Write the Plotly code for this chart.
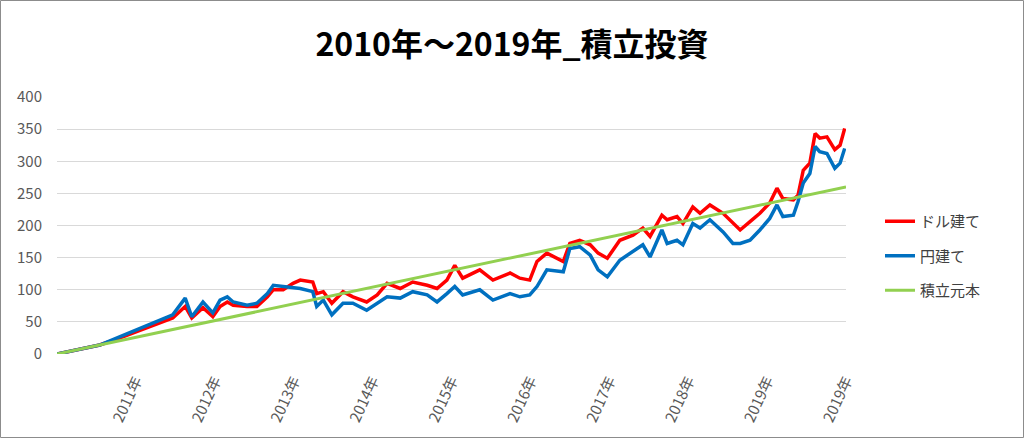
import plotly.graph_objects as go

# month index from Jan 2010 (0) to Dec 2019 (120)
months = [0, 3, 6.5, 9.6, 12.6, 15.7, 17.6, 19.5, 20.5, 22.2, 23.7, 24.8, 25.9, 26.8, 28.9,
          30.4, 32.0, 32.9, 34.4, 35.9, 37.0, 38.9, 39.5, 40.5, 41.8, 43.5, 45.0, 47.1,
          48.7, 50.2, 52.2, 54.1, 56.3, 57.8, 59.3, 60.5, 61.7, 64.3, 66.3, 68.9, 70.4,
          71.9, 73.0, 74.5, 77.0, 78.0, 79.5, 81.1, 82.3, 83.7, 85.6, 87.6, 89.1, 90.2,
          92.0, 92.8, 94.3, 95.2, 96.7, 97.8, 99.3, 101.3, 102.8, 103.9, 105.4, 106.9,
          108.4, 109.5, 110.4, 112.0, 112.7, 113.5, 114.5, 115.3, 116.0, 117.1, 118.3,
          119.1, 119.8]

dollar = [0, 7, 14, 25, 37, 48, 56, 74, 56, 72, 58, 74, 81, 76, 74,
          74, 89, 100, 100, 110, 115, 112, 94, 97, 79, 97, 89, 81,
          92, 110, 102, 112, 107, 102, 115, 138, 118, 131, 115, 126, 118,
          115, 144, 157, 144, 172, 177, 170, 157, 149, 177, 185, 196, 183,
          216, 209, 214, 203, 229, 219, 232, 219, 203, 193, 206, 219,
          235, 258, 242, 240, 247, 286, 297, 343, 336, 338, 318,
          325, 351]

yen = [0, 7, 14, 27, 40, 53, 61, 87, 58, 81, 64, 84, 89, 81, 76,
       79, 94, 107, 105, 103, 102, 97, 74, 84, 61, 79, 79, 68,
       79, 89, 87, 97, 92, 81, 94, 105, 92, 100, 84, 94, 89,
       92, 105, 131, 128, 164, 167, 154, 131, 120, 146, 159, 170, 151,
       193, 172, 177, 170, 203, 196, 209, 190, 172, 172, 177, 193,
       211, 232, 214, 216, 237, 266, 281, 323, 315, 312, 289,
       297, 320]

principal_months = [0, 12, 24, 36, 48, 60, 72, 84, 96, 108, 120]
principal = [0, 26, 52, 78, 104, 130, 156, 182, 208, 234, 260]

tick_vals = [12, 24, 36, 48, 60, 72, 84, 96, 108, 120]
tick_text = ["2011年", "2012年", "2013年", "2014年", "2015年", "2016年",
             "2017年", "2018年", "2019年", "2019年"]

FONT = "Noto Sans CJK JP"

fig = go.Figure()
fig.add_trace(go.Scatter(x=months, y=dollar, mode="lines", name="ドル建て",
                         line=dict(color="#FF0000", width=3.5), legendgroup="a"))
fig.add_trace(go.Scatter(x=months, y=yen, mode="lines", name="円建て",
                         line=dict(color="#0070C0", width=3.5), legendgroup="b"))
fig.add_trace(go.Scatter(x=principal_months, y=principal, mode="lines", name="積立元本",
                         line=dict(color="#92D050", width=3), legendgroup="c"))

L, R, T, B = 57, 178, 97, 84
pw, ph = 1024 - L - R, 438 - T - B

fig.update_layout(
    width=1024, height=438,
    margin=dict(l=L, r=R, t=T, b=B),
    paper_bgcolor="white", plot_bgcolor="white",
    font=dict(family=FONT, color="#595959", size=14),
    title=dict(text="<b>2010年～2019年_積立投資</b>", x=0.5, xanchor="center",
               y=1 - 45 / 438, yanchor="middle",
               font=dict(family=FONT, size=32, color="black")),
    xaxis=dict(range=[0, 120], tickvals=tick_vals, ticktext=tick_text, tickangle=-65,
               showgrid=False, zeroline=False, showline=False, ticks="",
               ticklabelstandoff=14, tickfont=dict(size=15, color="#595959")),
    yaxis=dict(range=[0, 400], dtick=50, showgrid=True, gridcolor="#D9D9D9", gridwidth=1,
               zeroline=False, showline=False, ticks="", ticklabelstandoff=14,
               tickfont=dict(size=15, color="#595959")),
    legend=dict(x=(880 - L) / pw, xanchor="left", y=(354 - 256) / ph, yanchor="middle",
                font=dict(size=15, color="#404040"), tracegroupgap=12,
                bgcolor="rgba(0,0,0,0)"),
    shapes=[dict(type="rect", xref="paper", yref="paper",
                 x0=-(L - 0.5) / pw, x1=1 + (R - 0.5) / pw,
                 y0=-(B - 0.5) / ph, y1=1 + (T - 0.5) / ph,
                 line=dict(color="#8C8C8C", width=1), layer="below")],
)

fig.write_html("out.html", config={"displayModeBar": False},
               post_script="document.body.style.margin='0';")
